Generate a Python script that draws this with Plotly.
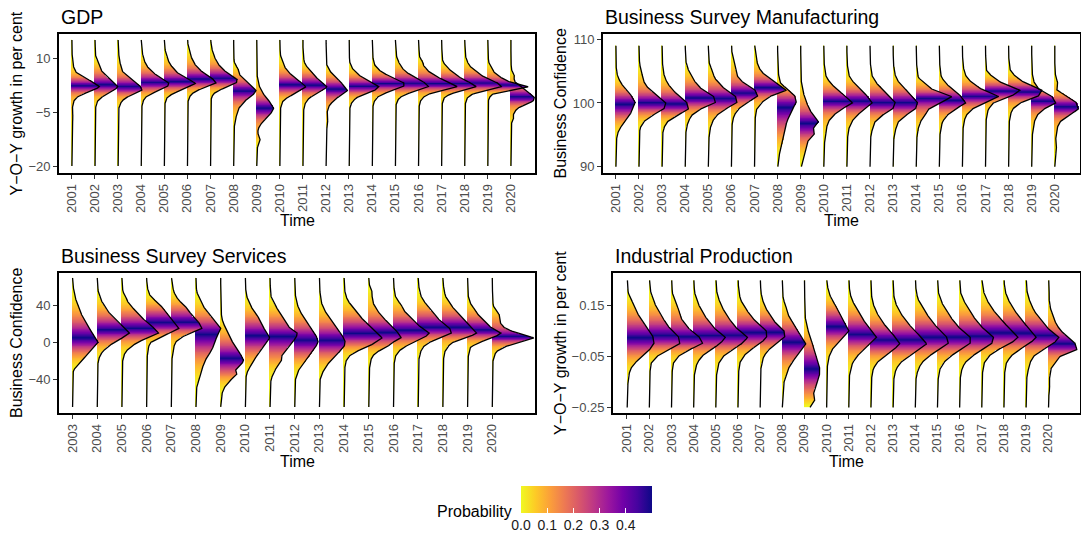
import numpy as np
import plotly.graph_objects as go

# ---------------- data (ridge heights, in units of one year-step) ----------------
years = [2001, 2002, 2003, 2004, 2005, 2006, 2007, 2008, 2009, 2010,
         2011, 2012, 2013, 2014, 2015, 2016, 2017, 2018, 2019, 2020]
svc_years = [2003, 2004, 2005, 2006, 2007, 2008, 2009, 2010, 2011,
             2012, 2013, 2014, 2015, 2016, 2017, 2018, 2019, 2020]

gdp_levels = [15, 14, 13, 12, 11, 10, 9, 8, 7, 6, 5, 4, 3, 2, 1, 0, -1, -2, -3, -4, -5,
              -6, -7, -8, -9, -10, -11, -12, -13, -14, -15, -16, -17, -18, -19, -20]
gdp_density = [
    [0.01,0.01,0.01,0.02,0.02,0.03, 0.05,0.07,0.10,0.20,0.42,0.72, 1.00,1.21,0.92,0.48,0.20,0.09, 0.05,0.03,0.03,0.05,0.05,0.03, 0.02,0.02,0.01,0.01,0.01,0.01, 0.01,0.01,0.01,0.01,0.01,0.01],
    [0.01,0.01,0.02,0.02,0.03,0.05, 0.12,0.22,0.26,0.33,0.48,0.65, 0.84,1.00,0.84,0.55,0.26,0.12, 0.06,0.03,0.02,0.01,0.01,0.01, 0.01,0.01,0.01,0.01,0.01,0.01, 0.01,0.01,0.01,0.01,0.01,0.01],
    [0.01,0.02,0.03,0.04,0.04,0.05, 0.08,0.12,0.16,0.22,0.42,0.60, 0.80,1.00,1.04,0.70,0.35,0.17, 0.08,0.04,0.03,0.02,0.01,0.01, 0.01,0.01,0.01,0.01,0.01,0.01, 0.01,0.01,0.01,0.01,0.01,0.01],
    [0.01,0.02,0.03,0.05,0.07,0.10, 0.16,0.23,0.35,0.52,0.71,0.95, 1.22,1.14,0.78,0.42,0.17,0.09, 0.05,0.03,0.02,0.01,0.01,0.01, 0.01,0.01,0.01,0.01,0.01,0.01, 0.01,0.01,0.01,0.01,0.01,0.01],
    [0.01,0.02,0.03,0.05,0.08,0.14, 0.20,0.29,0.42,0.56,0.78,1.07, 1.36,1.10,0.71,0.35,0.13,0.06, 0.03,0.02,0.01,0.01,0.01,0.01, 0.01,0.01,0.01,0.01,0.01,0.01, 0.01,0.01,0.01,0.01,0.01,0.01],
    [0.02,0.03,0.05,0.09,0.14,0.19, 0.26,0.36,0.50,0.68,0.90,1.15, 1.25,0.86,0.43,0.19,0.08,0.04, 0.02,0.01,0.01,0.01,0.01,0.01, 0.01,0.01,0.01,0.01,0.01,0.01, 0.01,0.01,0.01,0.01,0.01,0.01],
    [0.02,0.03,0.05,0.09,0.13,0.20, 0.27,0.38,0.52,0.71,0.92,1.17, 1.12,0.74,0.35,0.13,0.05,0.03, 0.02,0.01,0.01,0.01,0.01,0.01, 0.01,0.01,0.01,0.01,0.01,0.01, 0.01,0.01,0.01,0.01,0.01,0.01],
    [0.01,0.01,0.01,0.01,0.02,0.02, 0.03,0.09,0.20,0.23,0.30,0.45, 0.63,0.81,0.98,0.88,0.66,0.49, 0.35,0.23,0.16,0.13,0.09,0.06, 0.04,0.03,0.02,0.01,0.01,0.01, 0.01,0.01,0.01,0.01,0.01,0.01],
    [0.01,0.01,0.01,0.01,0.01,0.02, 0.02,0.02,0.02,0.03,0.03,0.04, 0.09,0.13,0.20,0.30,0.40,0.55, 0.66,0.74,0.66,0.55,0.38,0.23, 0.12,0.06,0.06,0.13,0.16,0.09, 0.03,0.02,0.02,0.01,0.01,0.01],
    [0.01,0.01,0.02,0.02,0.03,0.06, 0.12,0.19,0.26,0.40,0.55,0.76, 0.98,1.13,0.91,0.62,0.33,0.14, 0.07,0.04,0.03,0.02,0.01,0.01, 0.01,0.01,0.01,0.01,0.01,0.01, 0.01,0.01,0.01,0.01,0.01,0.01],
    [0.01,0.01,0.01,0.02,0.03,0.04, 0.06,0.13,0.25,0.42,0.53,0.68, 0.85,1.05,0.88,0.59,0.30,0.16, 0.08,0.05,0.03,0.02,0.01,0.01, 0.01,0.01,0.01,0.01,0.01,0.01, 0.01,0.01,0.01,0.01,0.01,0.01],
    [0.01,0.01,0.01,0.01,0.02,0.02, 0.03,0.04,0.12,0.22,0.36,0.50, 0.69,0.79,0.94,0.75,0.50,0.32, 0.17,0.09,0.06,0.05,0.07,0.09, 0.06,0.03,0.02,0.01,0.01,0.01, 0.01,0.01,0.01,0.01,0.01,0.01],
    [0.01,0.01,0.01,0.01,0.02,0.02, 0.03,0.07,0.16,0.30,0.49,0.74, 1.02,1.31,1.10,0.74,0.33,0.16, 0.07,0.04,0.02,0.01,0.01,0.01, 0.01,0.01,0.01,0.01,0.01,0.01, 0.01,0.01,0.01,0.01,0.01,0.01],
    [0.01,0.01,0.02,0.02,0.03,0.04, 0.06,0.12,0.25,0.43,0.75,1.04, 1.40,1.36,0.90,0.46,0.20,0.10, 0.05,0.03,0.02,0.01,0.01,0.01, 0.01,0.01,0.01,0.01,0.01,0.01, 0.01,0.01,0.01,0.01,0.01,0.01],
    [0.01,0.02,0.03,0.04,0.05,0.07, 0.14,0.22,0.33,0.50,0.74,1.02, 1.32,1.45,0.98,0.48,0.19,0.08, 0.04,0.02,0.01,0.01,0.01,0.01, 0.01,0.01,0.01,0.01,0.01,0.01, 0.01,0.01,0.01,0.01,0.01,0.01],
    [0.01,0.02,0.03,0.03,0.04,0.07, 0.19,0.22,0.33,0.50,0.76,1.05, 1.41,1.70,1.05,0.45,0.19,0.09, 0.05,0.03,0.02,0.01,0.01,0.01, 0.01,0.01,0.01,0.01,0.01,0.01, 0.01,0.01,0.01,0.01,0.01,0.01],
    [0.01,0.01,0.02,0.02,0.03,0.04, 0.06,0.17,0.32,0.49,0.71,0.95, 1.30,1.52,0.92,0.38,0.13,0.06, 0.03,0.02,0.01,0.01,0.01,0.01, 0.01,0.01,0.01,0.01,0.01,0.01, 0.01,0.01,0.01,0.01,0.01,0.01],
    [0.01,0.02,0.02,0.03,0.04,0.06, 0.12,0.20,0.35,0.56,0.78,1.07, 1.45,1.60,0.92,0.35,0.13,0.06, 0.03,0.02,0.01,0.01,0.01,0.01, 0.01,0.01,0.01,0.01,0.01,0.01, 0.01,0.01,0.01,0.01,0.01,0.01],
    [0.01,0.01,0.01,0.02,0.02,0.03, 0.04,0.10,0.19,0.29,0.48,0.72, 1.11,1.78,1.08,0.22,0.07,0.03, 0.02,0.01,0.01,0.01,0.01,0.01, 0.01,0.01,0.01,0.01,0.01,0.01, 0.01,0.01,0.01,0.01,0.01,0.01],
    [0.01,0.01,0.01,0.01,0.01,0.01, 0.01,0.02,0.03,0.07,0.17,0.14, 0.22,0.43,0.65,0.87,1.03,0.97, 0.58,0.29,0.16,0.10,0.13,0.04, 0.02,0.01,0.01,0.01,0.01,0.01, 0.01,0.01,0.01,0.01,0.01,0.01],
]

mfg_levels = [109, 108, 107, 106, 105, 104, 103, 102, 101, 100,
              99, 98, 97, 96, 95, 94, 93, 92, 91, 90]
mfg_density = [
    [0.01,0.01,0.01,0.02,0.03, 0.10,0.25,0.46,0.72,0.85, 0.72,0.60,0.39,0.17,0.06, 0.03,0.02,0.01,0.01,0.01],
    [0.01,0.01,0.02,0.04,0.12, 0.16,0.26,0.48,0.84,1.17, 1.08,0.55,0.19,0.05,0.03, 0.02,0.01,0.01,0.01,0.01],
    [0.01,0.01,0.02,0.03,0.06, 0.12,0.26,0.48,0.76,1.10, 1.15,0.62,0.22,0.07,0.03, 0.02,0.01,0.01,0.01,0.01],
    [0.01,0.02,0.03,0.06,0.17, 0.32,0.49,0.78,1.25,1.32, 0.63,0.27,0.13,0.06,0.03, 0.02,0.01,0.01,0.01,0.01],
    [0.01,0.02,0.03,0.06,0.20, 0.27,0.49,0.78,1.20,1.25, 0.71,0.35,0.17,0.09,0.05, 0.03,0.02,0.01,0.01,0.01],
    [0.02,0.03,0.07,0.14,0.22, 0.29,0.58,1.05,1.15,0.65, 0.29,0.12,0.05,0.03,0.02, 0.01,0.01,0.01,0.01,0.01],
    [0.02,0.04,0.10,0.14,0.29, 0.58,1.01,1.38,0.65,0.29, 0.10,0.05,0.03,0.02,0.01, 0.01,0.01,0.01,0.01,0.01],
    [0.01,0.01,0.02,0.03,0.04, 0.06,0.15,0.50,0.78,0.82, 0.63,0.52,0.40,0.35,0.30, 0.23,0.16,0.09,0.04,0.02],
    [0.01,0.01,0.01,0.02,0.02, 0.03,0.04,0.10,0.17,0.27, 0.39,0.56,0.79,0.55,0.60, 0.32,0.25,0.17,0.10,0.04],
    [0.01,0.01,0.02,0.03,0.06, 0.12,0.33,0.62,0.98,1.25, 0.76,0.40,0.19,0.12,0.07, 0.05,0.02,0.01,0.01,0.01],
    [0.01,0.01,0.02,0.03,0.06, 0.13,0.35,0.63,0.92,1.10, 0.78,0.42,0.20,0.10,0.05, 0.03,0.02,0.01,0.01,0.01],
    [0.01,0.01,0.02,0.03,0.06, 0.12,0.32,0.58,0.84,1.12, 0.98,0.50,0.22,0.12,0.05, 0.03,0.02,0.01,0.01,0.01],
    [0.01,0.01,0.02,0.03,0.06, 0.13,0.30,0.59,0.85,1.08, 0.97,0.52,0.23,0.13,0.06, 0.03,0.02,0.01,0.01,0.01],
    [0.01,0.01,0.02,0.03,0.05, 0.10,0.39,0.75,1.55,1.05, 0.53,0.39,0.17,0.10,0.05, 0.03,0.02,0.01,0.01,0.01],
    [0.01,0.01,0.02,0.03,0.05, 0.10,0.32,0.61,0.97,1.15, 0.68,0.32,0.14,0.07,0.04, 0.02,0.01,0.01,0.01,0.01],
    [0.01,0.01,0.02,0.04,0.08, 0.19,0.48,0.91,1.60,0.98, 0.40,0.16,0.07,0.04,0.02, 0.01,0.01,0.01,0.01,0.01],
    [0.01,0.01,0.02,0.03,0.06, 0.35,0.78,1.50,1.10,0.35, 0.13,0.06,0.03,0.02,0.01, 0.01,0.01,0.01,0.01,0.01],
    [0.01,0.01,0.02,0.04,0.09, 0.35,0.78,1.45,1.28,0.49, 0.17,0.07,0.04,0.02,0.01, 0.01,0.01,0.01,0.01,0.01],
    [0.01,0.01,0.01,0.02,0.03, 0.05,0.14,0.36,0.90,1.05, 0.51,0.22,0.12,0.07,0.04, 0.02,0.01,0.01,0.01,0.01],
    [0.01,0.01,0.01,0.01,0.02, 0.05,0.15,0.10,0.58,0.96, 1.03,0.58,0.22,0.10,0.07, 0.04,0.08,0.04,0.02,0.01],
]

svc_levels = [70, 65, 60, 55, 50, 45, 40, 35, 30, 25, 20, 15, 10, 5, 0,
              -5, -10, -15, -20, -25, -30, -35, -40, -45, -50, -55, -60, -65, -70]
svc_density = [
    [0.01,0.02,0.04,0.07,0.11, 0.16,0.24,0.30,0.38,0.47, 0.58,0.70,0.81,0.92,1.05, 0.88,0.70,0.54,0.38,0.20, 0.05,0.02,0.01,0.01,0.01, 0.01,0.01,0.01,0.01],
    [0.01,0.02,0.03,0.05,0.11, 0.19,0.28,0.42,0.55,0.73, 0.92,1.13,1.32,1.02,0.69, 0.42,0.22,0.11,0.05,0.03, 0.02,0.01,0.01,0.01,0.01, 0.01,0.01,0.01,0.01],
    [0.01,0.02,0.03,0.05,0.16, 0.23,0.36,0.54,0.70,0.90, 1.10,1.35,1.50,1.04,0.63, 0.36,0.16,0.07,0.04,0.02, 0.01,0.01,0.01,0.01,0.01, 0.01,0.01,0.01,0.01],
    [0.01,0.02,0.04,0.08,0.17, 0.38,0.58,0.75,0.89,1.05, 1.18,1.32,0.92,0.51,0.17, 0.08,0.08,0.03,0.02,0.01, 0.01,0.01,0.01,0.01,0.01, 0.01,0.01,0.01,0.01],
    [0.02,0.04,0.07,0.11,0.20, 0.34,0.55,0.71,0.82,1.00, 1.18,1.25,0.75,0.38,0.17, 0.11,0.08,0.05,0.03,0.02, 0.01,0.01,0.01,0.01,0.01, 0.01,0.01,0.01,0.01],
    [0.01,0.01,0.02,0.04,0.11, 0.20,0.30,0.40,0.54,0.70, 0.87,1.02,0.92,0.83,0.78, 0.70,0.61,0.47,0.38,0.30, 0.24,0.20,0.13,0.07,0.03, 0.02,0.01,0.01,0.01],
    [0.01,0.01,0.01,0.01,0.02, 0.02,0.02,0.03,0.04,0.07, 0.13,0.23,0.31,0.40,0.50, 0.61,0.74,0.87,0.94,0.81, 0.61,0.67,0.44,0.27,0.13, 0.07,0.03,0.02,0.01],
    [0.01,0.01,0.02,0.03,0.07, 0.12,0.23,0.32,0.46,0.61, 0.67,0.77,0.90,1.00,0.86, 0.73,0.57,0.46,0.32,0.23, 0.12,0.05,0.03,0.02,0.01, 0.01,0.01,0.01,0.01],
    [0.01,0.01,0.02,0.03,0.05, 0.12,0.23,0.34,0.47,0.57, 0.70,0.83,1.12,1.06,0.90, 0.74,0.61,0.47,0.47,0.34, 0.20,0.12,0.05,0.03,0.02, 0.01,0.01,0.01,0.01],
    [0.01,0.01,0.02,0.03,0.04, 0.08,0.13,0.20,0.31,0.42, 0.55,0.69,0.81,0.92,0.96, 0.85,0.74,0.61,0.47,0.31, 0.17,0.09,0.04,0.02,0.01, 0.01,0.01,0.01,0.01],
    [0.01,0.01,0.02,0.03,0.04, 0.08,0.12,0.22,0.32,0.46, 0.59,0.73,0.86,1.00,1.06, 1.00,0.82,0.63,0.46,0.30, 0.19,0.09,0.04,0.02,0.01, 0.01,0.01,0.01,0.01],
    [0.01,0.02,0.03,0.04,0.09, 0.17,0.31,0.44,0.61,0.77, 0.94,1.14,1.35,1.55,1.28, 0.94,0.47,0.20,0.09,0.05, 0.03,0.02,0.01,0.01,0.01, 0.01,0.01,0.01,0.01],
    [0.01,0.02,0.05,0.15,0.14, 0.17,0.22,0.35,0.48,0.66, 0.85,1.02,1.22,1.32,0.96, 0.75,0.35,0.15,0.08,0.05, 0.03,0.02,0.01,0.01,0.01, 0.01,0.01,0.01,0.01],
    [0.01,0.02,0.03,0.04,0.09, 0.20,0.34,0.43,0.57,0.77, 0.97,1.17,1.47,1.24,0.83, 0.43,0.20,0.09,0.05,0.03, 0.02,0.01,0.01,0.01,0.01, 0.01,0.01,0.01,0.01],
    [0.01,0.02,0.04,0.07,0.13, 0.24,0.38,0.51,0.69,0.85, 1.05,1.30,1.35,0.92,0.44, 0.20,0.11,0.06,0.03,0.02, 0.01,0.01,0.01,0.01,0.01, 0.01,0.01,0.01,0.01],
    [0.01,0.02,0.04,0.07,0.12, 0.23,0.36,0.50,0.66,0.86, 1.04,1.22,1.38,0.96,0.39, 0.19,0.09,0.05,0.03,0.02, 0.01,0.01,0.01,0.01,0.01, 0.01,0.01,0.01,0.01],
    [0.01,0.01,0.02,0.03,0.04, 0.09,0.17,0.34,0.44,0.61, 0.81,1.01,1.38,1.01,0.47, 0.13,0.07,0.04,0.02,0.01, 0.01,0.01,0.01,0.01,0.01, 0.01,0.01,0.01,0.01],
    [0.01,0.01,0.01,0.02,0.02, 0.03,0.05,0.15,0.30,0.33, 0.35,0.55,1.02,1.70,1.09, 0.48,0.17,0.08,0.04,0.02, 0.01,0.01,0.01,0.01,0.01, 0.01,0.01,0.01,0.01],
]

ip_levels = [0.25, 0.225, 0.2, 0.175, 0.15, 0.125, 0.1, 0.075, 0.05, 0.025, 0.0,
             -0.025, -0.05, -0.075, -0.1, -0.125, -0.15, -0.175, -0.2, -0.225, -0.25]
ip_density = [
    [0.02,0.03,0.06,0.20,0.30, 0.45,0.60,0.80,1.00,1.20, 1.22,1.00,0.69,0.35,0.15, 0.08,0.05,0.03,0.02,0.01, 0.01],
    [0.02,0.04,0.08,0.18,0.30, 0.45,0.63,0.81,1.05,1.36, 1.38,0.86,0.33,0.10,0.05, 0.03,0.02,0.02,0.01,0.01, 0.01],
    [0.02,0.03,0.05,0.15,0.26, 0.38,0.45,0.65,0.90,1.30, 1.42,0.75,0.30,0.10,0.05, 0.03,0.02,0.02,0.01,0.01, 0.01],
    [0.02,0.03,0.06,0.14,0.26, 0.41,0.59,0.81,1.07,1.45, 1.19,0.74,0.36,0.17,0.08, 0.04,0.02,0.02,0.01,0.01, 0.01],
    [0.02,0.03,0.06,0.15,0.26, 0.41,0.60,0.81,1.08,1.45, 1.16,0.71,0.33,0.15,0.08, 0.04,0.02,0.02,0.01,0.01, 0.01],
    [0.02,0.03,0.06,0.12,0.27, 0.47,0.69,0.96,1.30,1.30, 0.99,0.54,0.24,0.09,0.05, 0.03,0.02,0.01,0.01,0.01, 0.01],
    [0.02,0.03,0.05,0.11,0.21, 0.36,0.56,0.77,1.10,1.12, 0.74,0.36,0.17,0.08,0.04, 0.03,0.02,0.01,0.01,0.01, 0.01],
    [0.01,0.02,0.03,0.05,0.17, 0.23,0.35,0.57,0.72,0.87, 1.07,0.87,0.65,0.42,0.27, 0.17,0.09,0.05,0.03,0.02, 0.01],
    [0.01,0.01,0.02,0.02,0.03, 0.03,0.05,0.10,0.18,0.26, 0.38,0.48,0.56,0.63,0.71, 0.68,0.59,0.48,0.41,0.48, 0.26],
    [0.02,0.05,0.12,0.23,0.42, 0.60,0.72,0.87,1.02,0.75, 0.48,0.23,0.12,0.06,0.03, 0.02,0.01,0.01,0.01,0.01, 0.01],
    [0.02,0.03,0.06,0.14,0.29, 0.44,0.63,0.81,1.04,1.27, 0.99,0.66,0.36,0.18,0.09, 0.04,0.02,0.02,0.01,0.01, 0.01],
    [0.01,0.02,0.03,0.05,0.14, 0.26,0.41,0.63,0.86,1.13, 1.31,1.01,0.59,0.26,0.11, 0.05,0.03,0.02,0.01,0.01, 0.01],
    [0.01,0.02,0.03,0.06,0.17, 0.32,0.50,0.74,0.99,1.30, 1.52,1.14,0.69,0.32,0.14, 0.06,0.03,0.02,0.01,0.01, 0.01],
    [0.02,0.03,0.06,0.14,0.29, 0.47,0.66,0.89,1.14,1.45, 1.50,1.04,0.59,0.29,0.14, 0.06,0.03,0.02,0.01,0.01, 0.01],
    [0.02,0.03,0.06,0.15,0.27, 0.45,0.65,0.87,1.14,1.50, 1.48,1.02,0.57,0.27,0.12, 0.06,0.03,0.02,0.01,0.01, 0.01],
    [0.02,0.03,0.06,0.17,0.32, 0.50,0.69,0.92,1.19,1.55, 1.45,0.99,0.54,0.24,0.11, 0.05,0.03,0.02,0.01,0.01, 0.01],
    [0.02,0.05,0.11,0.23,0.38, 0.60,0.83,1.10,1.40,1.65, 1.28,0.68,0.30,0.12,0.06, 0.03,0.02,0.01,0.01,0.01, 0.01],
    [0.02,0.03,0.09,0.20,0.35, 0.54,0.75,0.99,1.25,1.47, 1.14,0.65,0.30,0.12,0.06, 0.03,0.02,0.01,0.01,0.01, 0.01],
    [0.02,0.03,0.06,0.15,0.26, 0.41,0.63,0.86,1.11,1.50, 1.23,0.71,0.33,0.18,0.11, 0.05,0.03,0.02,0.01,0.01, 0.01],
    [0.03,0.04,0.05,0.05,0.08, 0.15,0.26,0.38,0.60,0.90, 1.25,1.30,0.53,0.30,0.11, 0.08,0.05,0.08,0.03,0.05, 0.02],
]

# tick labels
gdp_yticks = [10, -5, -20]
mfg_yticks = [90, 100, 110]
svc_yticks = [-40, 0, 40]
ip_yticks = [0.15, -0.05, -0.25]
prob_ticks = [0.0, 0.1, 0.2, 0.3, 0.4]

# ---------------- layout helpers ----------------
FW, FH = 1081, 538
FONT = "Liberation Sans, Arial, Helvetica, sans-serif"


def fmt(v):
    s = ("%g" % v)
    return s.replace("-", "\u2212")


def build(levels, density, yrs, x_lo, x_hi, dx=0.04, rows=280):
    lv = np.asarray(levels, float)
    order = np.argsort(lv)
    lv = lv[order]
    yf = np.linspace(lv[0], lv[-1], rows)
    n_left = int(np.ceil((yrs[0] - x_lo) / dx))
    x0 = yrs[0] - n_left * dx
    ncol = int(np.ceil((x_hi - x0) / dx)) + 1
    xf = x0 + dx * np.arange(ncol)
    Z = np.full((rows, ncol), np.nan)
    lx, ly = [], []
    for yr, d in reversed(list(zip(yrs, density))):
        w = np.interp(yf, lv, np.asarray(d, float)[order])
        seg = (w[1:] + w[:-1]) / 2.0 * np.diff(yf)
        cdf = np.concatenate([[0.0], np.cumsum(seg)])
        cdf /= cdf[-1]
        p = np.minimum(cdf, 1.0 - cdf)
        inside = (xf[None, :] >= yr - 1e-6) & (xf[None, :] <= yr + w[:, None])
        Z = np.where(inside, p[:, None], Z)
        lx.append(np.append(yr + w, np.nan))
        ly.append(np.append(yf, np.nan))
    return xf, yf, Z.astype(np.float32), np.concatenate(lx), np.concatenate(ly)


panels = [
    dict(levels=gdp_levels, density=gdp_density, yrs=years, box=(59, 535, 34, 173),
         xr=(2000.45, 2021.05), yr=(-21.94, 16.67), yt=gdp_yticks, ytx=16,
         title="GDP", ytitle="Y\u2212O\u2212Y growth in per cent"),
    dict(levels=mfg_levels, density=mfg_density, yrs=years, box=(603, 1080, 34, 173),
         xr=(2000.45, 2021.10), yr=(89.01, 110.83), yt=mfg_yticks, ytx=560,
         title="Business Survey Manufacturing", ytitle="Business Confidence"),
    dict(levels=svc_levels, density=svc_density, yrs=svc_years, box=(59, 535, 273, 413),
         xr=(2002.46, 2021.74), yr=(-76.6, 75.5), yt=svc_yticks, ytx=16,
         title="Business Survey Services", ytitle="Business Confidence"),
    dict(levels=ip_levels, density=ip_density, yrs=years, box=(613, 1080, 273, 413),
         xr=(2000.37, 2021.44), yr=(-0.272, 0.279), yt=ip_yticks, ytx=560,
         title="Industrial Production", ytitle="Y\u2212O\u2212Y growth in per cent"),
]

fig = go.Figure()
line_traces = []
annotations = []
layout_axes = {}

for i, pnl in enumerate(panels):
    k = "" if i == 0 else str(i + 1)
    xf, yf, Z, lx, ly = build(pnl["levels"], pnl["density"], pnl["yrs"], pnl["xr"][0], pnl["xr"][1])
    hm = dict(x=xf, y=yf, z=Z, colorscale="Plasma", reversescale=True, zmin=0, zmax=0.5,
              xaxis="x" + k, yaxis="y" + k, hoverinfo="skip", zsmooth=False,
              showscale=(i == 0))
    if i == 0:
        hm["colorbar"] = dict(
            orientation="h", x=586.5 / FW, xanchor="center", y=1 - 486 / FH, yanchor="top",
            len=131, lenmode="pixels", thickness=27, thicknessmode="pixels",
            outlinewidth=0, xpad=0, ypad=0,
            tickmode="array", tickvals=prob_ticks, ticktext=["%.1f" % t for t in prob_ticks],
            ticks="inside", ticklen=5, tickcolor="white", tickwidth=1,
            tickfont=dict(family=FONT, size=14, color="#1A1A1A"))
    fig.add_trace(go.Heatmap(**hm))
    line_traces.append(go.Scatter(x=lx, y=ly, mode="lines", xaxis="x" + k, yaxis="y" + k,
                                  line=dict(color="black", width=1.3), hoverinfo="skip",
                                  showlegend=False))
    l, r, t, b = pnl["box"]
    common = dict(showline=True, linecolor="black", linewidth=1.8, mirror=True,
                  showgrid=False, zeroline=False, ticks="outside", ticklen=4, tickwidth=1,
                  tickcolor="#333333", tickfont=dict(family=FONT, size=13, color="#4D4D4D"),
                  automargin=False)
    layout_axes["xaxis" + k] = dict(common, domain=[l / FW, r / FW], range=list(pnl["xr"]),
                                    tickmode="array", tickvals=pnl["yrs"],
                                    ticktext=[str(y) for y in pnl["yrs"]], tickangle=-90,
                                    anchor="y" + k)
    layout_axes["yaxis" + k] = dict(common, domain=[1 - b / FH, 1 - t / FH], range=list(pnl["yr"]),
                                    tickmode="array", tickvals=pnl["yt"],
                                    ticktext=[fmt(v) for v in pnl["yt"]], anchor="x" + k)
    annotations.append(dict(text=pnl["title"], x=l / FW, y=1 - (t - 17) / FH, xref="paper", yref="paper",
                            xanchor="left", yanchor="middle", showarrow=False,
                            font=dict(family=FONT, size=19.5, color="black")))
    annotations.append(dict(text="Time", x=(l + r) / 2 / FW, y=1 - (b + 48) / FH, xref="paper", yref="paper",
                            xanchor="center", yanchor="middle", showarrow=False,
                            font=dict(family=FONT, size=16, color="black")))
    annotations.append(dict(text=pnl["ytitle"], x=pnl["ytx"] / FW, y=1 - (t + b) / 2 / FH, xref="paper",
                            yref="paper", xanchor="center", yanchor="middle", showarrow=False,
                            textangle=-90, font=dict(family=FONT, size=16, color="black")))

for tr in line_traces:
    fig.add_trace(tr)

annotations.append(dict(text="Probability", x=514 / FW, y=1 - 511 / FH, xref="paper", yref="paper",
                        xanchor="right", yanchor="middle", showarrow=False,
                        font=dict(family=FONT, size=16, color="black")))

fig.update_layout(width=FW, height=FH, margin=dict(l=0, r=0, t=0, b=0, autoexpand=False),
                  paper_bgcolor="white", plot_bgcolor="white", showlegend=False,
                  annotations=annotations, **layout_axes)

fig.write_html("out.html", config={"displayModeBar": False},
               post_script="document.body.style.margin='0';document.body.style.overflow='hidden';")
